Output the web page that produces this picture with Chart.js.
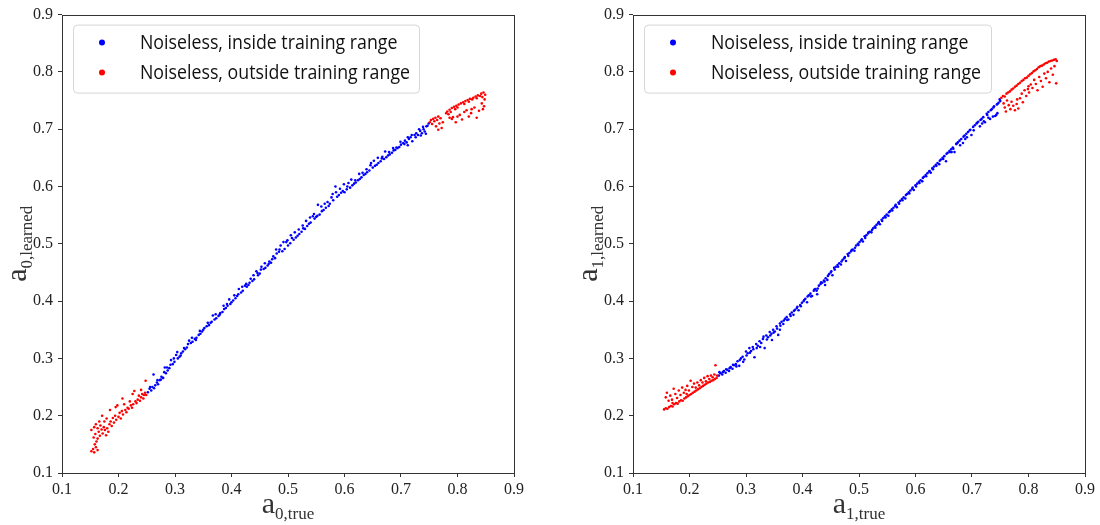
<!DOCTYPE html>
<html><head><meta charset="utf-8">
<script src="https://cdn.jsdelivr.net/npm/chart.js@4.4.0/dist/chart.umd.min.js"></script>
<style>
html,body{margin:0;padding:0;background:#fff;width:1100px;height:525px;overflow:hidden}
canvas{position:absolute;top:0}
#c0{left:0}#c1{left:550px}
</style></head><body>
<canvas id="c0" width="550" height="525"></canvas>
<canvas id="c1" width="550" height="525"></canvas>
<script>
// ---------- data ----------
const tickValues = [0.1,0.2,0.3,0.4,0.5,0.6,0.7,0.8,0.9];
const seriesLabels = ['Noiseless, inside training range','Noiseless, outside training range'];
const seriesColors = ['#0000ff','#ff0000'];
const leftXTitle = ['a','0,true'];
const leftYTitle = ['a','0,learned'];
const rightXTitle = ['a','1,true'];
const rightYTitle = ['a','1,learned'];

const leftInside = [[0.252,0.241],[0.255,0.247],[0.258,0.244],[0.26,0.25],[0.262,0.272],[0.265,0.253],[0.268,0.258],[0.27,0.255],[0.273,0.262],[0.276,0.268],[0.279,0.266],[0.282,0.284],[0.284,0.274],[0.287,0.279],[0.29,0.283],[0.293,0.297],[0.296,0.29],[0.299,0.294],[0.302,0.306],[0.305,0.3],[0.308,0.303],[0.311,0.309],[0.314,0.312],[0.318,0.316],[0.321,0.319],[0.325,0.331],[0.328,0.327],[0.331,0.329],[0.335,0.334],[0.338,0.336],[0.342,0.341],[0.345,0.343],[0.348,0.347],[0.352,0.353],[0.356,0.356],[0.36,0.358],[0.363,0.362],[0.367,0.375],[0.37,0.368],[0.373,0.37],[0.377,0.374],[0.38,0.379],[0.384,0.381],[0.387,0.386],[0.39,0.388],[0.393,0.392],[0.396,0.403],[0.4,0.398],[0.403,0.401],[0.407,0.405],[0.41,0.409],[0.413,0.421],[0.417,0.415],[0.42,0.418],[0.424,0.427],[0.427,0.425],[0.43,0.428],[0.434,0.439],[0.437,0.435],[0.44,0.438],[0.444,0.452],[0.447,0.445],[0.45,0.448],[0.453,0.46],[0.457,0.456],[0.46,0.458],[0.464,0.462],[0.467,0.469],[0.47,0.467],[0.474,0.478],[0.477,0.475],[0.48,0.483],[0.484,0.486],[0.487,0.497],[0.49,0.487],[0.494,0.491],[0.497,0.503],[0.5,0.497],[0.504,0.501],[0.507,0.51],[0.51,0.507],[0.514,0.511],[0.517,0.514],[0.52,0.517],[0.524,0.521],[0.527,0.527],[0.53,0.526],[0.534,0.531],[0.537,0.535],[0.54,0.537],[0.544,0.548],[0.547,0.544],[0.55,0.547],[0.553,0.568],[0.556,0.551],[0.56,0.557],[0.563,0.559],[0.567,0.563],[0.57,0.573],[0.574,0.57],[0.577,0.581],[0.58,0.576],[0.584,0.6],[0.587,0.582],[0.59,0.585],[0.594,0.589],[0.597,0.592],[0.6,0.59],[0.604,0.595],[0.607,0.606],[0.61,0.598],[0.614,0.602],[0.617,0.605],[0.62,0.607],[0.624,0.611],[0.627,0.613],[0.63,0.616],[0.634,0.62],[0.637,0.622],[0.64,0.625],[0.644,0.628],[0.647,0.641],[0.65,0.633],[0.654,0.636],[0.657,0.638],[0.66,0.641],[0.664,0.644],[0.667,0.652],[0.67,0.648],[0.674,0.651],[0.677,0.654],[0.68,0.656],[0.684,0.659],[0.687,0.663],[0.69,0.664],[0.694,0.667],[0.697,0.669],[0.7,0.673],[0.704,0.676],[0.707,0.68],[0.71,0.677],[0.714,0.683],[0.717,0.686],[0.72,0.679],[0.724,0.69],[0.727,0.693],[0.73,0.69],[0.734,0.697],[0.737,0.693],[0.74,0.7],[0.744,0.692],[0.747,0.706],[0.749,0.71],
[0.256,0.25],[0.263,0.248],[0.269,0.262],[0.275,0.263],[0.281,0.276],[0.286,0.284],[0.292,0.289],[0.298,0.3],[0.304,0.311],[0.31,0.305],[0.316,0.318],[0.323,0.325],[0.33,0.336],[0.337,0.332],[0.344,0.348],[0.35,0.35],[0.358,0.362],[0.365,0.364],[0.372,0.377],[0.379,0.376],[0.386,0.392],[0.392,0.395],[0.398,0.395],[0.405,0.41],[0.412,0.412],[0.419,0.425],[0.426,0.43],[0.432,0.432],[0.439,0.445],[0.446,0.449],[0.452,0.455],[0.459,0.466],[0.466,0.465],[0.472,0.473],[0.479,0.49],[0.485,0.49],[0.492,0.503],[0.499,0.506],[0.505,0.515],[0.512,0.52],[0.519,0.525],[0.526,0.532],[0.532,0.54],[0.539,0.546],[0.546,0.552],[0.552,0.549],[0.559,0.565],[0.565,0.57],[0.572,0.566],[0.579,0.587],[0.585,0.59],[0.592,0.596],[0.599,0.604],[0.605,0.6],[0.612,0.612],[0.619,0.611],[0.626,0.622],[0.632,0.624],[0.639,0.63],[0.646,0.637],[0.652,0.645],[0.659,0.65],[0.666,0.649],[0.672,0.661],[0.679,0.66],[0.686,0.667],[0.692,0.668],[0.699,0.678],[0.706,0.674],[0.712,0.686],[0.719,0.69],[0.726,0.686],[0.732,0.7],[0.739,0.704],[0.745,0.705],[0.735,0.689],[0.742,0.696],[0.712,0.672]];

const leftOutside = [[0.152,0.138],[0.155,0.142],[0.157,0.136],[0.16,0.145],[0.163,0.14],[0.158,0.15],[0.161,0.155],[0.156,0.162],[0.159,0.168],[0.163,0.16],[0.165,0.172],[0.152,0.175],[0.157,0.18],[0.16,0.185],[0.163,0.178],[0.166,0.19],[0.168,0.183],[0.17,0.176],[0.172,0.169],[0.174,0.18],[0.176,0.175],[0.178,0.166],[0.18,0.178],[0.182,0.172],[0.179,0.195],[0.184,0.185],[0.186,0.19],[0.188,0.182],[0.19,0.196],[0.192,0.188],[0.194,0.2],[0.196,0.193],[0.198,0.218],[0.2,0.198],[0.202,0.205],[0.204,0.195],[0.206,0.208],[0.208,0.202],[0.21,0.22],[0.212,0.21],[0.214,0.206],[0.216,0.214],[0.218,0.212],[0.22,0.225],[0.222,0.218],[0.224,0.214],[0.226,0.22],[0.228,0.243],[0.23,0.225],[0.232,0.222],[0.234,0.228],[0.236,0.235],[0.238,0.226],[0.24,0.232],[0.242,0.238],[0.244,0.23],[0.245,0.236],[0.247,0.24],[0.248,0.261],[0.249,0.236],[0.171,0.2],[0.185,0.21],[0.207,0.23],[0.225,0.238],[0.195,0.215],[0.175,0.19],[0.167,0.165],[0.24,0.245],
[0.751,0.712],[0.753,0.716],[0.755,0.709],[0.757,0.718],[0.759,0.714],[0.761,0.72],[0.762,0.705],[0.764,0.716],[0.766,0.722],[0.768,0.71],[0.77,0.719],[0.772,0.702],[0.766,0.699],[0.774,0.712],[0.78,0.728],[0.782,0.731],[0.784,0.726],[0.786,0.734],[0.788,0.73],[0.79,0.737],[0.792,0.721],[0.794,0.739],[0.796,0.735],[0.798,0.741],[0.8,0.738],[0.802,0.743],[0.804,0.725],[0.806,0.745],[0.808,0.717],[0.81,0.747],[0.812,0.744],[0.814,0.749],[0.816,0.733],[0.818,0.751],[0.82,0.748],[0.822,0.753],[0.824,0.728],[0.826,0.752],[0.828,0.755],[0.83,0.738],[0.832,0.757],[0.834,0.754],[0.836,0.759],[0.838,0.732],[0.84,0.758],[0.842,0.762],[0.843,0.745],[0.844,0.756],[0.846,0.764],[0.847,0.74],[0.848,0.752],[0.849,0.76],[0.845,0.735],[0.79,0.718],[0.8,0.722],[0.812,0.73],[0.82,0.722],[0.834,0.72],[0.786,0.72],[0.797,0.712],[0.825,0.735]];

const rightInside = [[0.252,0.27],[0.255,0.274],[0.258,0.272],[0.261,0.278],[0.264,0.275],[0.267,0.28],[0.27,0.278],[0.273,0.285],[0.276,0.282],[0.279,0.288],[0.282,0.29],[0.285,0.295],[0.288,0.287],[0.291,0.3],[0.294,0.303],[0.297,0.298],[0.3,0.312],[0.303,0.309],[0.306,0.318],[0.309,0.313],[0.312,0.32],[0.315,0.302],[0.318,0.325],[0.321,0.322],[0.324,0.33],[0.327,0.327],[0.33,0.334],[0.333,0.318],[0.336,0.34],[0.339,0.337],[0.342,0.346],[0.345,0.343],[0.348,0.35],[0.351,0.347],[0.354,0.356],[0.357,0.341],[0.36,0.361],[0.363,0.364],[0.366,0.36],[0.369,0.369],[0.372,0.372],[0.375,0.368],[0.378,0.377],[0.381,0.38],[0.384,0.376],[0.387,0.385],[0.39,0.388],[0.393,0.384],[0.396,0.393],[0.399,0.397],[0.402,0.4],[0.405,0.404],[0.408,0.398],[0.411,0.41],[0.414,0.413],[0.417,0.409],[0.42,0.418],[0.423,0.421],[0.426,0.412],[0.429,0.427],[0.432,0.43],[0.435,0.432],[0.438,0.436],[0.441,0.44],[0.444,0.437],[0.447,0.447],[0.45,0.45],[0.453,0.445],[0.456,0.458],[0.459,0.46],[0.462,0.463],[0.465,0.466],[0.468,0.464],[0.471,0.472],[0.474,0.475],[0.477,0.47],[0.48,0.482],[0.483,0.484],[0.486,0.487],[0.489,0.49],[0.492,0.488],[0.495,0.497],[0.498,0.5],[0.501,0.503],[0.504,0.506],[0.507,0.504],[0.51,0.513],[0.513,0.515],[0.516,0.518],[0.519,0.521],[0.522,0.52],[0.525,0.527],[0.528,0.53],[0.531,0.533],[0.534,0.536],[0.537,0.534],[0.54,0.542],[0.543,0.545],[0.546,0.548],[0.549,0.551],[0.552,0.549],[0.555,0.557],[0.558,0.56],[0.561,0.563],[0.564,0.566],[0.567,0.564],[0.57,0.572],[0.573,0.575],[0.576,0.578],[0.579,0.581],[0.582,0.579],[0.585,0.587],[0.588,0.59],[0.591,0.593],[0.594,0.596],[0.597,0.594],[0.6,0.602],[0.603,0.605],[0.606,0.608],[0.609,0.611],[0.612,0.609],[0.615,0.617],[0.618,0.62],[0.621,0.623],[0.624,0.626],[0.627,0.624],[0.63,0.632],[0.633,0.635],[0.636,0.638],[0.639,0.641],[0.642,0.639],[0.645,0.647],[0.648,0.65],[0.651,0.653],[0.654,0.644],[0.657,0.659],[0.66,0.662],[0.663,0.665],[0.666,0.668],[0.669,0.66],[0.672,0.674],[0.675,0.677],[0.678,0.68],[0.681,0.683],[0.684,0.676],[0.687,0.689],[0.69,0.692],[0.693,0.695],[0.696,0.698],[0.699,0.69],[0.702,0.704],[0.705,0.707],[0.708,0.71],[0.711,0.713],[0.714,0.705],[0.717,0.718],[0.72,0.721],[0.723,0.712],[0.726,0.727],[0.729,0.73],[0.732,0.718],[0.735,0.735],[0.738,0.738],[0.741,0.723],[0.744,0.743],[0.747,0.746],[0.75,0.749],[0.737,0.722],[0.745,0.728],
[0.253,0.276],[0.259,0.276],[0.265,0.281],[0.271,0.283],[0.277,0.289],[0.283,0.286],[0.289,0.297],[0.295,0.294],[0.301,0.305],[0.307,0.31],[0.313,0.316],[0.319,0.318],[0.325,0.32],[0.331,0.338],[0.337,0.333],[0.343,0.34],[0.349,0.345],[0.355,0.352],[0.361,0.357],[0.367,0.366],[0.373,0.367],[0.379,0.374],[0.385,0.383],[0.391,0.39],[0.397,0.391],[0.403,0.402],[0.409,0.408],[0.415,0.408],[0.421,0.42],[0.427,0.422],[0.433,0.433],[0.439,0.434],[0.445,0.444],[0.451,0.452],[0.457,0.455],[0.463,0.46],[0.469,0.469],[0.475,0.477],[0.481,0.479],[0.487,0.489],[0.493,0.493],[0.499,0.498],[0.505,0.508],[0.511,0.51],[0.517,0.52],[0.523,0.524],[0.529,0.528],[0.535,0.538],[0.541,0.54],[0.547,0.546],[0.553,0.555],[0.559,0.558],[0.565,0.568],[0.571,0.57],[0.577,0.576],[0.583,0.585],[0.589,0.588],[0.595,0.598],[0.601,0.6],[0.607,0.606],[0.613,0.615],[0.619,0.618],[0.625,0.627],[0.631,0.63],[0.637,0.636],[0.643,0.645],[0.649,0.648],[0.655,0.657],[0.661,0.66],[0.667,0.666],[0.673,0.675],[0.679,0.672],[0.685,0.687],[0.691,0.686],[0.697,0.699],[0.703,0.698],[0.709,0.711],[0.715,0.716],[0.721,0.714],[0.727,0.725],[0.733,0.733],[0.739,0.74],[0.745,0.744],[0.749,0.752],[0.743,0.725],[0.729,0.72],[0.718,0.71],[0.688,0.683],[0.664,0.66],[0.425,0.418],[0.44,0.428],[0.36,0.35],[0.346,0.332]];

const rightOutside = [[0.155,0.211],[0.158,0.213],[0.161,0.212],[0.164,0.215],[0.167,0.217],[0.17,0.216],[0.173,0.22],[0.176,0.222],[0.179,0.221],[0.182,0.225],[0.185,0.227],[0.188,0.226],[0.191,0.23],[0.194,0.232],[0.197,0.234],[0.2,0.236],[0.203,0.238],[0.206,0.24],[0.209,0.242],[0.212,0.244],[0.215,0.246],[0.218,0.248],[0.221,0.25],[0.224,0.252],[0.227,0.254],[0.23,0.256],[0.233,0.258],[0.236,0.259],[0.239,0.261],[0.242,0.262],[0.245,0.264],[0.248,0.266],[0.158,0.232],[0.16,0.24],[0.163,0.226],[0.166,0.235],[0.169,0.228],[0.172,0.247],[0.175,0.238],[0.178,0.231],[0.181,0.244],[0.184,0.236],[0.187,0.249],[0.19,0.24],[0.193,0.245],[0.196,0.252],[0.199,0.244],[0.202,0.261],[0.205,0.25],[0.208,0.256],[0.211,0.249],[0.214,0.258],[0.217,0.253],[0.22,0.262],[0.223,0.258],[0.226,0.266],[0.229,0.26],[0.232,0.269],[0.235,0.264],[0.238,0.27],[0.241,0.267],[0.244,0.272],[0.246,0.288],[0.249,0.27],[0.17,0.222],[0.195,0.238],
[0.752,0.755],[0.755,0.758],[0.758,0.757],[0.761,0.762],[0.764,0.764],[0.767,0.766],[0.77,0.769],[0.773,0.771],[0.776,0.774],[0.779,0.776],[0.782,0.779],[0.785,0.781],[0.788,0.784],[0.791,0.786],[0.794,0.789],[0.797,0.79],[0.8,0.793],[0.803,0.796],[0.806,0.798],[0.809,0.801],[0.812,0.803],[0.815,0.805],[0.818,0.808],[0.821,0.81],[0.824,0.811],[0.827,0.813],[0.83,0.815],[0.833,0.816],[0.836,0.818],[0.839,0.819],[0.842,0.82],[0.845,0.821],[0.848,0.822],[0.85,0.819],[0.756,0.745],[0.758,0.738],[0.76,0.731],[0.762,0.75],[0.765,0.742],[0.768,0.735],[0.77,0.748],[0.773,0.741],[0.776,0.733],[0.779,0.744],[0.782,0.736],[0.785,0.754],[0.788,0.762],[0.79,0.747],[0.793,0.768],[0.796,0.758],[0.799,0.77],[0.801,0.764],[0.804,0.778],[0.807,0.772],[0.81,0.786],[0.813,0.779],[0.816,0.768],[0.819,0.791],[0.822,0.784],[0.825,0.774],[0.828,0.797],[0.831,0.789],[0.834,0.8],[0.837,0.782],[0.84,0.806],[0.843,0.795],[0.846,0.81],[0.849,0.78],[0.8,0.775],[0.78,0.752]];

// ---------- drawing ----------
const SERIF = '"Liberation Serif", "DejaVu Serif", serif';
const SANS = '"Open Sans", "Noto Sans", sans-serif';

function toXY(arr){ return arr.map(p => ({x:p[0], y:p[1]})); }

const framePlugin = {
  id:'frame',
  afterDraw(chart, args, opts){
    const ctx = chart.ctx, a = chart.chartArea;
    ctx.save();
    ctx.strokeStyle = '#333'; ctx.lineWidth = 1;
    ctx.strokeRect(Math.round(a.left)+0.5, Math.round(a.top)+0.5, Math.round(a.right-a.left), Math.round(a.bottom-a.top));
    // legend
    const bx = a.left + 11, by = a.top + 10, bw = opts.legendWidth, bh = 68;
    ctx.fillStyle = 'rgba(255,255,255,0.85)';
    ctx.strokeStyle = '#d6d6d6';
    ctx.beginPath(); ctx.roundRect(bx+0.5, by+0.5, bw, bh, 4); ctx.fill(); ctx.stroke();
    const longest = seriesLabels.reduce((m,s)=> s.length>m.length? s : m, '');
    ctx.font = '20px ' + SANS;
    const sx = Math.min(1, 270 / ctx.measureText(longest).width);
    seriesLabels.forEach((lab, i) => {
      const cy = by + 18 + i*30;
      ctx.fillStyle = seriesColors[i];
      ctx.beginPath(); ctx.arc(bx + 29, cy, 3, 0, Math.PI*2); ctx.fill();
      ctx.fillStyle = '#111';
      ctx.textBaseline = 'middle'; ctx.textAlign = 'left';
      ctx.save(); ctx.translate(bx + 67, cy + 1); ctx.scale(sx, 1);
      ctx.fillText(lab, 0, 0);
      ctx.restore();
    });
    // axis titles with subscripts
    const drawSub = (parts, x0, base) => {
      ctx.font = '30px ' + SERIF; const w1 = ctx.measureText(parts[0]).width;
      ctx.font = '17px ' + SERIF; const w2 = ctx.measureText(parts[1]).width;
      const start = x0 - (w1 + w2)/2;
      ctx.fillStyle = '#333'; ctx.textBaseline = 'alphabetic'; ctx.textAlign = 'left';
      ctx.font = '30px ' + SERIF; ctx.fillText(parts[0], start, base);
      ctx.font = '17px ' + SERIF; ctx.fillText(parts[1], start + w1, base + 6);
    };
    drawSub(opts.xTitle, (a.left + a.right)/2, 513);
    ctx.save();
    ctx.translate(a.left - 36, (a.top + a.bottom)/2);
    ctx.rotate(-Math.PI/2);
    drawSub(opts.yTitle, 0, 0);
    ctx.restore();
    ctx.restore();
  }
};

function makeChart(id, inside, outside, yWidth, padRight, legendWidth, xTitle, yTitle){
  const axis = (isX) => ({
    type:'linear', min:0.1, max:0.9,
    afterBuildTicks: s => { s.ticks = tickValues.map(v => ({value:v})); },
    ticks:{ callback: v => Number(v).toFixed(1), font:{family:SERIF, size:16}, color:'#222',
            padding: isX ? 3 : 5, maxRotation:0, autoSkip:false },
    grid:{ display:true, drawOnChartArea:false, drawTicks:true, tickLength:4, color:'#333' },
    border:{ display:false },
    title:{ display:false },
    afterFit: s => { if (isX) s.height = 52; else s.width = yWidth; }
  });
  return new Chart(document.getElementById(id), {
    type:'scatter',
    data:{ datasets:[
      { label:seriesLabels[0], data:toXY(inside), backgroundColor:seriesColors[0], borderWidth:0, pointRadius:1.3, order:1 },
      { label:seriesLabels[1], data:toXY(outside), backgroundColor:seriesColors[1], borderWidth:0, pointRadius:1.3, order:0 }
    ]},
    options:{
      responsive:false, animation:false, devicePixelRatio:1,
      layout:{ padding:{ top:12, right:padRight, left:0, bottom:0 } },
      scales:{ x:axis(true), y:axis(false) },
      plugins:{ legend:{display:false}, tooltip:{enabled:false},
        frame:{ legendWidth, xTitle, yTitle } }
    },
    plugins:[framePlugin]
  });
}

makeChart('c0', leftInside, leftOutside, 62, 36, 346, leftXTitle, leftYTitle);
makeChart('c1', rightInside, rightOutside, 83, 15, 347, rightXTitle, rightYTitle);
</script>
</body></html>
